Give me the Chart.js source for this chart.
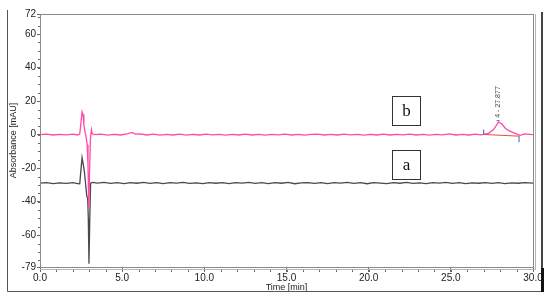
<!DOCTYPE html>
<html>
<head>
<meta charset="utf-8">
<script src="https://cdn.jsdelivr.net/npm/chart.js@4.4.1/dist/chart.umd.min.js"></script>
<style>
  html, body { margin: 0; padding: 0; background: #fff; }
  #wrap { width: 550px; height: 301px; position: relative; }
</style>
</head>
<body>
<div id="wrap"><canvas id="chrom"></canvas></div>
<script>
// Trace b (pink)
const timeB = [0.0, 0.4, 0.8, 1.2, 1.6, 2.0, 2.3, 2.42, 2.48, 2.56, 2.62, 2.67, 2.75, 2.8, 2.87, 2.92, 2.97, 3.02, 3.07, 3.13, 3.18,
  3.3, 3.7, 4.1, 4.5, 4.9, 5.3, 5.6, 5.8, 6.1, 6.5, 6.9, 7.3, 7.7, 8.1, 8.5, 8.9, 9.3, 9.7, 10.1, 10.5, 10.9, 11.3, 11.7, 12.1,
  12.5, 12.9, 13.3, 13.7, 14.1, 14.5, 14.9, 15.3, 15.7, 16.1, 16.5, 16.9, 17.3, 17.7, 18.1, 18.5, 18.9, 19.3, 19.7, 20.1, 20.5,
  20.9, 21.3, 21.7, 22.1, 22.5, 22.9, 23.3, 23.7, 24.1, 24.5, 24.9, 25.3, 25.7, 26.1, 26.5, 26.8, 27.0, 27.3, 27.6, 27.9, 28.1,
  28.3, 28.5, 28.8, 29.0, 29.2, 29.5, 29.8, 30.0];
const absB = [0, 0.3, -0.2, 0.2, -0.1, 0.3, -0.2, 0.5, 6, 13.7, 12, 6, 1, -1, -6, -18, -44, -20, -2, 3, 0.5,
  0, 0.3, -0.3, 0.2, -0.2, 0.4, 1.3, 0.3, 0.5, -0.2, 0.3, -0.3, 0.2, -0.2, 0.3, -0.3, 0.2, -0.2, 0.3, -0.1, 0.2, -0.3, 0.2, -0.2,
  0.3, -0.2, 0.2, -0.3, 0.2, -0.1, 0.3, -0.2, 0.2, -0.3, 0.1, 0.3, -0.2, 0.2, -0.2, 0.3, -0.1, 0.2, -0.3, 0.2, -0.2,
  0.3, -0.2, 0.2, -0.1, 0.3, -0.2, 0.2, -0.3, 0.2, -0.1, 0.4, -0.2, 0.2, -0.2, 0.3, -0.1, 0.1, 0.8, 3, 7.5, 6.5,
  4, 2.5, 1.2, 0.5, -0.4, 0.5, 0.2, 0];

// Trace a (dark grey)
const timeA = [0.0, 0.4, 0.8, 1.2, 1.6, 2.0, 2.3, 2.42, 2.5, 2.56, 2.62, 2.7, 2.78, 2.85, 2.9, 2.94, 2.98, 3.03, 3.08, 3.2,
  3.5, 3.9, 4.3, 4.7, 5.1, 5.5, 5.9, 6.3, 6.7, 7.1, 7.5, 7.9, 8.3, 8.7, 9.1, 9.5, 9.9, 10.3, 10.7, 11.1, 11.5, 11.9, 12.3,
  12.7, 13.1, 13.5, 13.9, 14.3, 14.7, 15.1, 15.5, 15.9, 16.3, 16.7, 17.1, 17.5, 17.9, 18.3, 18.7, 19.1, 19.5, 19.9, 20.3,
  20.7, 21.1, 21.5, 21.9, 22.3, 22.7, 23.1, 23.5, 23.9, 24.3, 24.7, 25.1, 25.5, 25.9, 26.3, 26.7, 27.1, 27.5, 27.9, 28.3,
  28.7, 29.1, 29.5, 30.0];
const absA = [-29, -28.6, -29.2, -28.8, -29.1, -28.7, -29.2, -29.3, -20, -13.7, -17, -22, -30, -37, -37.5, -50, -77, -50, -29, -28.5,
  -28.9, -28.5, -29.1, -28.7, -29.2, -28.6, -29.0, -28.5, -29.1, -28.7, -29.2, -28.6, -28.9, -28.5, -29.1, -28.8, -29.2, -28.6, -29.0, -28.6, -29.2, -28.7, -28.9,
  -28.5, -29.1, -28.7, -29.2, -28.6, -29.0, -28.5, -29.3, -28.8, -28.6, -29.1, -28.7, -29.2, -28.6, -28.9, -28.5, -29.1, -28.7, -29.3, -28.6,
  -28.9, -29.2, -28.6, -29.0, -28.5, -29.1, -28.8, -29.2, -28.6, -28.9, -28.5, -29.1, -28.7, -29.2, -28.8, -29.0, -28.6, -29.1, -28.7, -29.2,
  -28.8, -29.0, -28.6, -28.9];

const yTicks = [-79, -60, -40, -20, 0, 20, 40, 60, 72];
const xTicks = [0, 5, 10, 15, 20, 25, 30];

// Peak 4 integration on trace b
const peakTime = 27.877;
const peakLabel = '4 - 27.877';
const peakStart = 27.0;
const peakEnd = 29.15;

const toPoints = (t, v) => t.map((x, i) => ({ x: x, y: v[i] }));

// frame, minor ticks, labels a/b, peak annotation
const decor = {
    id: 'decor',
    afterDraw(chart) {
        const { ctx, chartArea: a, scales: { x, y } } = chart;
        ctx.save();

        // plot border (double grey)
        ctx.strokeStyle = '#8a8a8a';
        ctx.lineWidth = 1;
        ctx.strokeRect(a.left + 0.5, a.top + 0.5, a.right - a.left, a.bottom - a.top);
        ctx.strokeStyle = '#b5b5b5';
        ctx.beginPath();
        ctx.moveTo(a.left, a.bottom + 2.5);
        ctx.lineTo(a.right + 2.5, a.bottom + 2.5);
        ctx.lineTo(a.right + 2.5, a.top);
        ctx.stroke();

        // outer frame
        ctx.strokeStyle = '#555';
        ctx.lineWidth = 1;
        ctx.beginPath();
        ctx.moveTo(7.5, 10);
        ctx.lineTo(7.5, 291.5);
        ctx.lineTo(542, 291.5);
        ctx.stroke();
        ctx.strokeStyle = '#444';
        ctx.lineWidth = 2;
        ctx.beginPath();
        ctx.moveTo(542, 12);
        ctx.lineTo(542, 292);
        ctx.stroke();
        ctx.lineWidth = 3;
        ctx.strokeStyle = '#111';
        ctx.beginPath();
        ctx.moveTo(542.5, 268);
        ctx.lineTo(542.5, 292);
        ctx.stroke();

        // minor ticks
        ctx.strokeStyle = '#666';
        ctx.lineWidth = 1;
        ctx.beginPath();
        for (let v = -75; v <= 70; v += 5) {
            const py = Math.round(y.getPixelForValue(v)) + 0.5;
            ctx.moveTo(a.left - 2, py);
            ctx.lineTo(a.left, py);
        }
        for (let t = 1; t < 30; t += 1) {
            const px = Math.round(x.getPixelForValue(t)) + 0.5;
            ctx.moveTo(px, a.bottom + 3);
            ctx.lineTo(px, a.bottom + 5);
        }
        ctx.stroke();

        // trace labels
        ctx.font = '17px "Liberation Serif", "DejaVu Serif", serif';
        ctx.textAlign = 'center';
        ctx.textBaseline = 'middle';
        [['b', 22.3, 14.3], ['a', 22.3, -18]].forEach(([txt, t, v]) => {
            const cx = x.getPixelForValue(t), cy = y.getPixelForValue(v);
            ctx.fillStyle = '#fff';
            ctx.fillRect(cx - 14, cy - 14.5, 28, 29);
            ctx.strokeStyle = '#333';
            ctx.lineWidth = 1;
            ctx.strokeRect(Math.round(cx - 14) + 0.5, Math.round(cy - 14.5) + 0.5, 28, 29);
            ctx.fillStyle = '#111';
            ctx.fillText(txt, cx, cy + 1);
        });

        // peak integration baseline and markers
        const xs = x.getPixelForValue(peakStart), xe = x.getPixelForValue(peakEnd);
        const ys = y.getPixelForValue(0.1), ye = y.getPixelForValue(-0.9);
        ctx.strokeStyle = '#e0533a';
        ctx.lineWidth = 1;
        ctx.beginPath();
        ctx.moveTo(xs, ys);
        ctx.lineTo(xe, ye);
        ctx.stroke();
        ctx.strokeStyle = '#3a55d8';
        ctx.beginPath();
        ctx.moveTo(xs, ys - 5);
        ctx.lineTo(xs, ys);
        ctx.moveTo(xe, ye);
        ctx.lineTo(xe, ye + 6);
        const xp = x.getPixelForValue(peakTime), yp = y.getPixelForValue(8.3);
        ctx.moveTo(xp - 1.5, yp);
        ctx.lineTo(xp + 1.5, yp);
        ctx.stroke();

        ctx.translate(xp, yp - 3);
        ctx.rotate(-Math.PI / 2);
        ctx.font = '7px "Liberation Sans", Arial, sans-serif';
        ctx.fillStyle = '#444';
        ctx.textAlign = 'left';
        ctx.textBaseline = 'middle';
        ctx.fillText(peakLabel, 0, 0);
        ctx.restore();
    }
};

const tickFont = { family: '"Liberation Sans", Arial, sans-serif', size: 10 };

new Chart(document.getElementById('chrom'), {
    type: 'line',
    data: {
        datasets: [
            {
                label: 'b',
                data: toPoints(timeB, absB),
                borderColor: '#ff4aa8',
                borderWidth: 1.3,
                pointRadius: 0,
                tension: 0
            },
            {
                label: 'a',
                data: toPoints(timeA, absA),
                borderColor: '#4a4a4a',
                borderWidth: 1.3,
                pointRadius: 0,
                tension: 0
            }
        ]
    },
    options: {
        responsive: true,
        maintainAspectRatio: false,
        animation: false,
        layout: { padding: { left: 8, top: 14, right: 17, bottom: 8 } },
        plugins: {
            legend: { display: false },
            tooltip: { enabled: false }
        },
        scales: {
            x: {
                type: 'linear',
                min: 0,
                max: 30,
                afterFit: s => { s.height = 26; },
                afterBuildTicks: s => { s.ticks = xTicks.map(v => ({ value: v })); },
                grid: { drawOnChartArea: false, tickLength: 5, color: '#666' },
                border: { display: false },
                ticks: {
                    font: tickFont,
                    color: '#222',
                    padding: 0,
                    maxRotation: 0,
                    callback: v => v.toFixed(1)
                },
                title: {
                    display: true,
                    text: 'Time [min]',
                    font: { family: '"Liberation Sans", Arial, sans-serif', size: 9 },
                    color: '#222',
                    padding: { top: 0, bottom: 0 }
                }
            },
            y: {
                min: -79,
                max: 72,
                afterFit: s => { s.width = 32; },
                afterBuildTicks: s => { s.ticks = yTicks.map(v => ({ value: v })); },
                grid: { drawOnChartArea: false, tickLength: 3, color: '#666' },
                border: { display: false },
                ticks: {
                    font: tickFont,
                    color: '#222',
                    padding: 1
                },
                title: {
                    display: true,
                    text: 'Absorbance [mAU]',
                    font: { family: '"Liberation Sans", Arial, sans-serif', size: 9 },
                    color: '#222',
                    padding: { top: 0, bottom: 0 }
                }
            }
        }
    },
    plugins: [decor]
});
</script>
</body>
</html>
